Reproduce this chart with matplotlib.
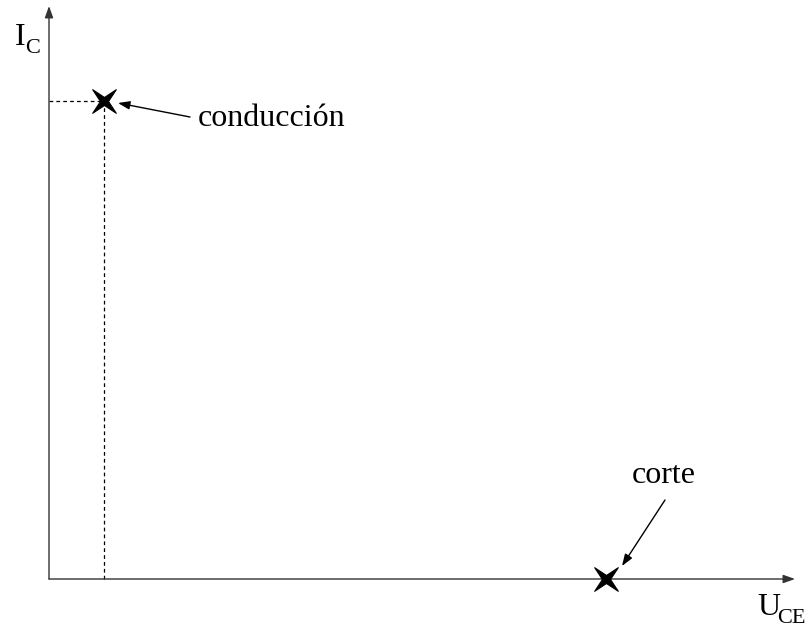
import matplotlib
matplotlib.use("Agg")
import matplotlib.pyplot as plt
from matplotlib.path import Path

plt.rcParams['font.family'] = ['Liberation Serif', 'DejaVu Serif']

# Data (arbitrary units)
point_names = ["conducción", "corte"]
u_ce = [55, 557]
i_c = [478, 0]
u_max = 746
i_max = 573
x_label = ("U", "CE")
y_label = ("I", "C")

fig = plt.figure(figsize=(8.07, 6.28), dpi=100)
ax = fig.add_axes([0, 0, 1, 1])
ax.set_xlim(-49, 758)
ax.set_ylim(-49, 579)
ax.axis('off')

axis_col = '#333333'
arrow_kw = dict(arrowstyle='-|>,head_length=0.7,head_width=0.25', color='black', lw=1.0,
                shrinkA=0, shrinkB=0)
# axes
ax.annotate('', xy=(u_max, 0), xytext=(0, 0),
            arrowprops=dict(arrow_kw, color=axis_col))
ax.annotate('', xy=(0, i_max), xytext=(0, 0),
            arrowprops=dict(arrow_kw, color=axis_col))

# dashed guide lines for conduction point
ax.plot([0, u_ce[0]], [i_c[0], i_c[0]], ls=(0, (3, 2.5)), color='black', lw=0.9)
ax.plot([u_ce[0], u_ce[0]], [0, i_c[0]], ls=(0, (3, 2.5)), color='black', lw=0.9)

# star-like X marker
r = 0.34
verts = [(1, 1), (0, r), (-1, 1), (-r, 0), (-1, -1), (0, -r), (1, -1), (r, 0), (1, 1)]
codes = [Path.MOVETO] + [Path.LINETO] * 7 + [Path.CLOSEPOLY]
xmark = Path(verts, codes)
ax.plot(u_ce, i_c, ls='none', marker=xmark, markersize=17, color='black',
        markeredgewidth=0.8, zorder=5)

# labels
ax.text(149, 453, point_names[0], fontsize=23, va='baseline', ha='left')
ax.annotate('', xy=(69, 476), xytext=(141, 462), arrowprops=arrow_kw)
ax.text(583, 96, point_names[1], fontsize=23, va='baseline', ha='left')
ax.annotate('', xy=(573, 13), xytext=(616, 79), arrowprops=arrow_kw)

ax.text(-34, 534, y_label[0], fontsize=23, va='baseline', ha='left')
ax.text(-24, 526, y_label[1], fontsize=16, va='baseline', ha='left')
ax.text(708, -36, x_label[0], fontsize=23, va='baseline', ha='left')
ax.text(728, -44, x_label[1], fontsize=16, va='baseline', ha='left')

fig.savefig('out.png', dpi=100, facecolor='white')
